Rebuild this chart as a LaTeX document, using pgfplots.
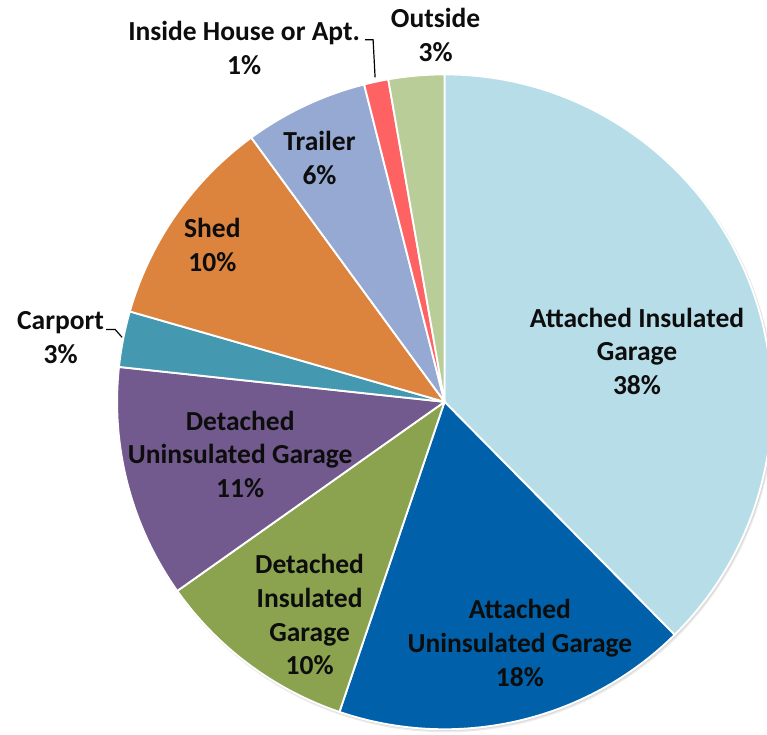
\documentclass[border=0pt]{standalone}
\usepackage{pgfplots}
\pgfplotsset{compat=1.18}
\usepackage{pgfplotstable}
\usepackage{fontspec}
\setmainfont{Carlito}

\definecolor{pie0}{HTML}{B7DDE8}
\definecolor{pie1}{HTML}{0061AA}
\definecolor{pie2}{HTML}{8BA34E}
\definecolor{pie3}{HTML}{725A8F}
\definecolor{pie4}{HTML}{4498B0}
\definecolor{pie5}{HTML}{DC843E}
\definecolor{pie6}{HTML}{95A9D2}
\definecolor{pie7}{HTML}{FF6262}
\definecolor{pie8}{HTML}{B9CD98}
\definecolor{lbl}{HTML}{0D0D0D}

\tikzset{lab/.style={font=\fontsize{20.8}{25.5}\selectfont\bfseries, text=lbl, align=center, inner sep=0pt}}

% share of each location, clockwise from 12 o'clock
\pgfplotstableread{
id  value
0   37.6
1   17.6
2   10.0
3   11.5
4   2.75
5   10.5
6   6.1
7   1.2
8   2.75
}\piedata

\begin{document}
% start / end angles of the slices
\gdef\cum{0}
\foreach \i in {0,...,8}{%
  \pgfplotstablegetelem{\i}{value}\of\piedata
  \pgfmathsetmacro\s{90-3.6*\cum}%
  \pgfmathsetmacro\c{\cum+\pgfplotsretval}%
  \pgfmathsetmacro\e{90-3.6*\c}%
  \expandafter\xdef\csname ps\i\endcsname{\s}%
  \expandafter\xdef\csname pe\i\endcsname{\e}%
  \xdef\cum{\c}%
}
\begin{tikzpicture}
\begin{axis}[
  scale only axis, width=575.25pt, height=555pt,
  xmin=0, xmax=767, ymin=0, ymax=740,
  hide axis, clip=true,
]
  % soft shadow
  \fill[black, opacity=0.08] (axis cs:443.5,333) circle[radius=248.3pt];
  \fill[black, opacity=0.08] (axis cs:443,334) circle[radius=248pt];
  \pgfplotsinvokeforeach{0,...,8}{
    \fill[fill=pie#1, draw=white, line width=1.4pt, line join=round]
      (axis cs:442,335) -- ++(\csname ps#1\endcsname:247.5pt)
      arc[start angle=\csname ps#1\endcsname, end angle=\csname pe#1\endcsname, radius=247.5pt]
      -- cycle;
  }
  \node[lab] at (axis cs:636,386) {Attached Insulated\\Garage\\38\%};
  \node[lab] at (axis cs:518,92) {Attached\\Uninsulated Garage\\18\%};
  \node[lab] at (axis cs:306,120.5) {Detached\\Insulated\\Garage\\10\%};
  \node[lab] at (axis cs:236,282) {Detached\\Uninsulated Garage\\11\%};
  \node[lab] at (axis cs:55,399.5) {Carport\\3\%};
  \node[lab] at (axis cs:208,493) {Shed\\10\%};
  \node[lab] at (axis cs:316,581) {Trailer\\6\%};
  \node[lab] at (axis cs:240,692) {Inside House or Apt.\\1\%};
  \node[lab] at (axis cs:433,705) {Outside\\3\%};
  \draw[black, line width=0.9pt] (axis cs:101,408) -- (axis cs:110,408) -- (axis cs:117,400);
  \draw[black, line width=0.9pt] (axis cs:362,700) -- (axis cs:370,700) -- (axis cs:372,662);
\end{axis}
\pgfresetboundingbox
\path[use as bounding box] (0,0) rectangle (575.25pt,555pt);
\end{tikzpicture}
\end{document}
